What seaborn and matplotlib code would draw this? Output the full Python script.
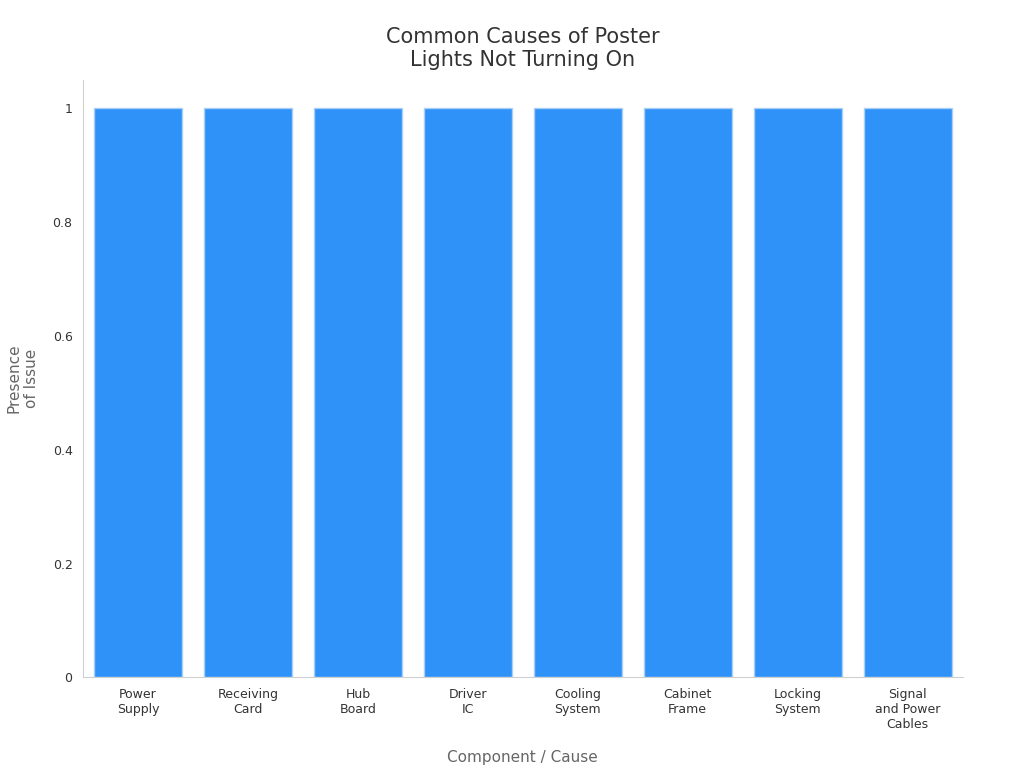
import matplotlib
matplotlib.use("Agg")
import matplotlib.pyplot as plt
import seaborn as sns
import pandas as pd
from matplotlib.ticker import FuncFormatter

# 数据
categories = ["Power\nSupply", "Receiving\nCard", "Hub\nBoard", "Driver\nIC",
              "Cooling\nSystem", "Cabinet\nFrame", "Locking\nSystem",
              "Signal\nand Power\nCables"]
presence = [1, 1, 1, 1, 1, 1, 1, 1]

sns.set_style("white")
plt.rcParams["font.family"] = ["DejaVu Sans"]

df = pd.DataFrame({"cause": categories, "presence": presence})

fig, ax = plt.subplots(figsize=(10.24, 7.68), dpi=100)
fig.subplots_adjust(left=0.081, right=0.94, top=0.896, bottom=0.118)

sns.barplot(data=df, x="cause", y="presence", color="#2F92F8", saturation=1,
            width=0.8, edgecolor="#A9CFF5", linewidth=1, ax=ax)

ax.set_xlim(-0.5, 7.5)
ax.set_ylim(0, 1.05)
ax.set_yticks([0, 0.2, 0.4, 0.6, 0.8, 1.0])
ax.yaxis.set_major_formatter(FuncFormatter(lambda v, p: f"{v:g}"))
ax.tick_params(axis="both", labelsize=9, colors="#333333", length=4)
ax.tick_params(axis="both", color="#888888")

for s in ["top", "right"]:
    ax.spines[s].set_visible(False)
for s in ["left", "bottom"]:
    ax.spines[s].set_color("#d0d0d0")

ax.set_xlabel("Component / Cause", fontsize=11, color="#666666", labelpad=14)
ax.set_ylabel("Presence\nof Issue", fontsize=11, color="#666666", labelpad=10)
ax.set_title("Common Causes of Poster\nLights Not Turning On", fontsize=15,
             color="#333333", pad=10)

fig.savefig("out.png", dpi=100)
